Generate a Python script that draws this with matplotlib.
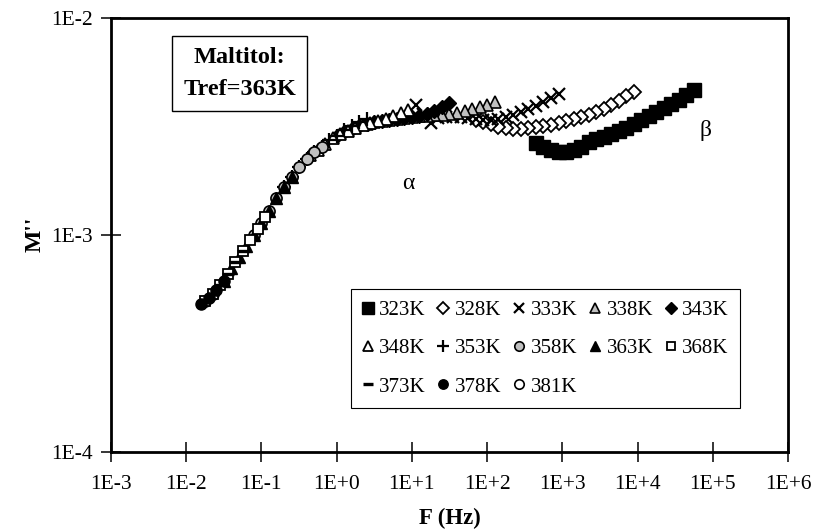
import numpy as np
import matplotlib
matplotlib.use('Agg')
import matplotlib.pyplot as plt
from matplotlib.ticker import NullLocator

plt.rcParams['font.family'] = ['Liberation Serif', 'DejaVu Serif']

# measured frequencies (Hz), highest first; each series uses its first len(m) values
f_meas = [0.2512, 0.1995, 0.1585, 0.1259, 0.1, 0.07943, 0.0631, 0.05012, 0.03981,
          0.03162, 0.02512, 0.01995, 0.01585, 0.01259, 0.01, 0.007943, 0.00631,
          0.005012, 0.003981, 0.003162, 0.002512, 0.001995]

temps = ['323K', '328K', '333K', '338K', '343K', '348K', '353K',
         '358K', '363K', '368K', '373K', '378K', '381K']

# shift factors aT (Tref = 363K)
a_T = [223872, 35481, 3548, 501.2, 125.9, 35.48, 10.0,
       2.512, 1.0, 0.4467, 0.2239, 0.1259, 0.0891]

# M'' values, highest frequency first
m_323 = [4.65e-3, 4.41e-3, 4.18e-3, 4.01e-3, 3.84e-3, 3.68e-3, 3.53e-3, 3.38e-3,
         3.24e-3, 3.11e-3, 3.01e-3, 2.92e-3, 2.82e-3, 2.77e-3, 2.68e-3, 2.54e-3,
         2.46e-3, 2.41e-3, 2.41e-3, 2.46e-3, 2.54e-3, 2.65e-3]
m_328 = [4.56e-3, 4.37e-3, 4.14e-3, 3.97e-3, 3.80e-3, 3.68e-3, 3.57e-3, 3.49e-3,
         3.42e-3, 3.35e-3, 3.28e-3, 3.21e-3, 3.17e-3, 3.14e-3, 3.11e-3, 3.07e-3,
         3.07e-3, 3.11e-3, 3.14e-3, 3.24e-3, 3.31e-3, 3.38e-3]
m_333 = [4.46e-3, 4.28e-3, 4.10e-3, 3.93e-3, 3.80e-3, 3.68e-3, 3.57e-3, 3.49e-3,
         3.42e-3, 3.38e-3, 3.38e-3, 3.42e-3, 3.46e-3, 3.49e-3, 3.49e-3, 3.49e-3,
         3.46e-3, 3.28e-3, 3.61e-3, 3.97e-3]
m_338 = [4.10e-3, 3.97e-3, 3.89e-3, 3.80e-3, 3.72e-3, 3.65e-3, 3.61e-3, 3.57e-3,
         3.57e-3, 3.53e-3, 3.53e-3, 3.49e-3, 3.46e-3, 3.42e-3, 3.38e-3, 3.35e-3,
         3.31e-3, 3.24e-3]
m_343 = [4.05e-3, 3.89e-3, 3.72e-3, 3.61e-3, 3.53e-3, 3.49e-3, 3.46e-3, 3.42e-3,
         3.38e-3, 3.35e-3, 3.31e-3, 3.24e-3, 3.17e-3, 3.07e-3, 2.98e-3, 2.85e-3]
m_348 = [3.76e-3, 3.65e-3, 3.53e-3, 3.42e-3, 3.35e-3, 3.28e-3, 3.21e-3, 3.11e-3,
         3.01e-3, 2.92e-3, 2.80e-3, 2.62e-3, 2.46e-3, 2.33e-3]
m_353 = [3.42e-3, 3.31e-3, 3.17e-3, 3.04e-3, 2.85e-3, 2.74e-3, 2.54e-3, 2.41e-3,
         2.24e-3, 2.05e-3, 1.85e-3, 1.66e-3]
m_358 = [2.54e-3, 2.41e-3, 2.24e-3, 2.05e-3, 1.85e-3, 1.66e-3, 1.48e-3, 1.29e-3,
         1.13e-3, 1.00e-3]
m_363 = [1.85e-3, 1.66e-3, 1.48e-3, 1.29e-3, 1.13e-3, 1.00e-3, 8.87e-4, 7.89e-4,
         7.02e-4, 6.12e-4]
m_368 = [1.21e-3, 1.06e-3, 9.46e-4, 8.41e-4, 7.49e-4, 6.59e-4, 5.86e-4, 5.33e-4, 4.95e-4]
m_373 = [8.41e-4, 7.49e-4, 6.59e-4, 5.86e-4, 5.33e-4, 4.95e-4]
m_378 = [6.12e-4, 5.56e-4, 5.11e-4, 4.79e-4]
m_381 = [5.33e-4, 4.95e-4]

m_series = [m_323, m_328, m_333, m_338, m_343, m_348, m_353,
            m_358, m_363, m_368, m_373, m_378, m_381]

xticks = [1e-3, 1e-2, 1e-1, 1e0, 1e1, 1e2, 1e3, 1e4, 1e5, 1e6]
xtick_labels = ['1E-3', '1E-2', '1E-1', '1E+0', '1E+1', '1E+2', '1E+3', '1E+4', '1E+5', '1E+6']
yticks = [1e-4, 1e-3, 1e-2]
ytick_labels = ['1E-4', '1E-3', '1E-2']

grey = '#c0c0c0'
styles = [
    dict(marker='s', mfc='black', ms=9.5),
    dict(marker='D', mfc='white', ms=7, mew=1.3),
    dict(marker='x', mfc='black', ms=8.5, mew=1.6),
    dict(marker='^', mfc=grey, ms=9, mew=1.2),
    dict(marker='D', mfc='black', ms=7.5),
    dict(marker='^', mfc='white', ms=9, mew=1.3),
    dict(marker='+', mfc='black', ms=9.5, mew=1.6),
    dict(marker='o', mfc=grey, ms=8, mew=1.2),
    dict(marker='^', mfc='black', ms=9),
    dict(marker='s', mfc='white', ms=7.5, mew=1.3),
    dict(marker='_', mfc='black', ms=9, mew=2.4),
    dict(marker='o', mfc='black', ms=8),
    dict(marker='o', mfc='white', ms=8, mew=1.2),
]

fig = plt.figure(figsize=(8.13, 5.29), dpi=100)
ax = fig.add_axes([0.1365, 0.1465, 0.8327, 0.8195])

handles = []
for T, aT, m, st in zip(temps, a_T, m_series, styles):
    st = dict(st)
    mew = st.pop('mew', 1.0)
    f = np.array(f_meas[:len(m)]) * aT
    z = 1.9 if T == '381K' else 2
    h, = ax.plot(f, m, ls='none', mec='black', mew=mew, zorder=z, label=T, **st)
    handles.append(h)

ax.set_xscale('log')
ax.set_yscale('log')
ax.set_xlim(1e-3, 1e6)
ax.set_ylim(1e-4, 1e-2)
ax.set_xticks(xticks)
ax.set_xticklabels(xtick_labels)
ax.set_yticks(yticks)
ax.set_yticklabels(ytick_labels)
ax.xaxis.set_minor_locator(NullLocator())
ax.yaxis.set_minor_locator(NullLocator())
ax.tick_params(which='major', direction='inout', length=14, width=1.1,
               labelsize=15.5, color='black')
ax.tick_params(axis='x', pad=10)
ax.tick_params(axis='y', pad=6)
for s in ax.spines.values():
    s.set_linewidth(2.0)

ax.set_xlabel('F (Hz)', fontsize=16.5, fontweight='bold')
ax.set_ylabel("M''", fontsize=17, fontweight='bold')
ax.xaxis.set_label_coords(0.5, -0.129)
ax.yaxis.set_label_coords(-0.097, 0.5)

ax.text(0.19, 0.872, 'Maltitol:\nTref=363K', transform=ax.transAxes,
        ha='center', va='center', fontsize=17.5, fontweight='bold', linespacing=1.65,
        bbox=dict(boxstyle='square,pad=0.45', fc='white', ec='black', lw=1.0))

ax.text(8.9, 1.73e-3, 'α', fontsize=17, ha='center', va='center')
ax.text(7.9e4, 3.04e-3, 'β', fontsize=17, ha='center', va='center')

# row-major legend order (matplotlib fills columns first)
order = [0, 5, 10, 1, 6, 11, 2, 7, 12, 3, 8, 4, 9]
leg = ax.legend([handles[i] for i in order], [temps[i] for i in order],
                ncol=5, loc='upper left', bbox_to_anchor=(0.3545, 0.3749),
                borderaxespad=0, fontsize=15, frameon=True, fancybox=False,
                edgecolor='black', framealpha=1, handlelength=0.5,
                handletextpad=0.3, columnspacing=0.6, labelspacing=0.9,
                borderpad=0.55, numpoints=1, markerscale=0.85)
leg.get_frame().set_linewidth(0.8)

fig.savefig('out.png', dpi=100)
